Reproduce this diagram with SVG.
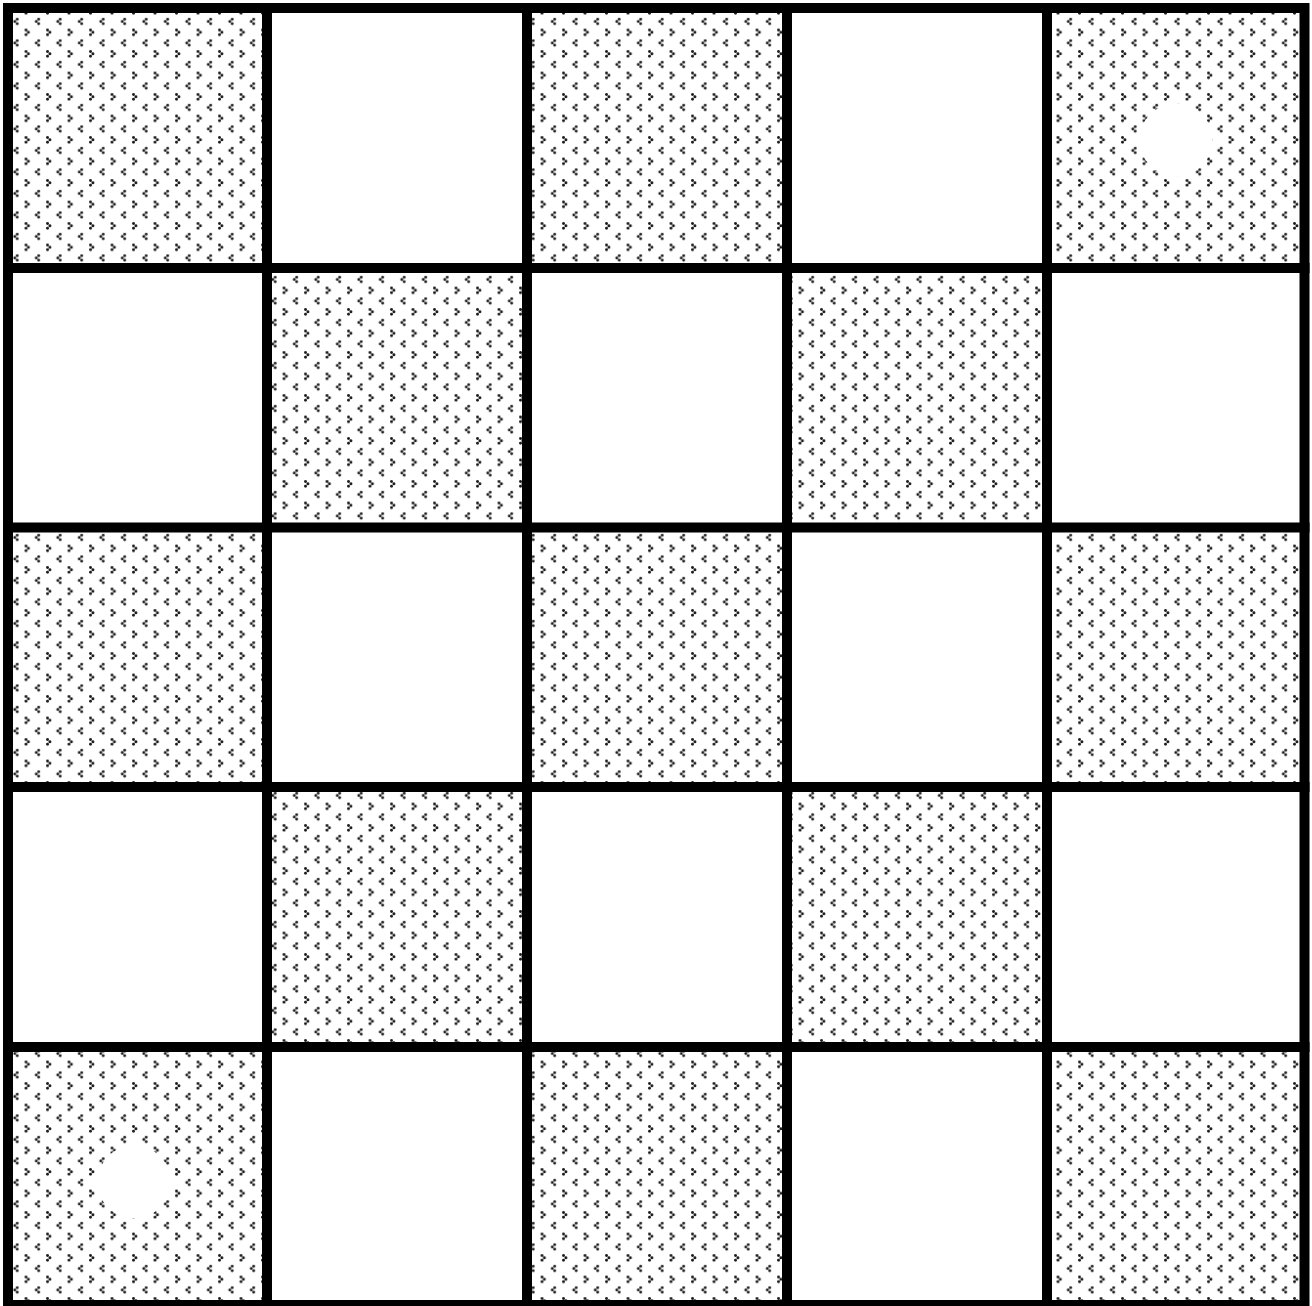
<svg xmlns="http://www.w3.org/2000/svg" width="1312" height="1306" viewBox="0 0 1312 1306">
  <style>
    .dot { fill: url(#dots); }
    .plain { fill: #ffffff; }
    .grid { stroke: #000000; stroke-width: 10; fill: none; stroke-linecap: square; }
    .hole { fill: #ffffff; }
    .g { fill: #1a1a1a; }
  </style>
  <defs>
    <pattern id="dots" patternUnits="userSpaceOnUse" x="5" y="11" width="21.5" height="21.5">
      <g class="g">
        <circle cx="12.2" cy="8.2" r="1.45"/>
        <circle cx="9.8" cy="10.5" r="1.45"/>
        <circle cx="12.2" cy="12.8" r="1.45"/>
        <circle cx="-0.5" cy="19" r="1.45"/>
        <circle cx="1.9" cy="21.3" r="1.45"/>
        <circle cx="-0.5" cy="23.6" r="1.45"/>
        <circle cx="21" cy="19" r="1.45"/>
        <circle cx="23.4" cy="21.3" r="1.45"/>
        <circle cx="21" cy="23.6" r="1.45"/>
        <circle cx="-0.5" cy="-2.5" r="1.45"/>
        <circle cx="1.9" cy="-0.2" r="1.45"/>
        <circle cx="-0.5" cy="2.1" r="1.45"/>
        <circle cx="21" cy="-2.5" r="1.45"/>
        <circle cx="23.4" cy="-0.2" r="1.45"/>
        <circle cx="21" cy="2.1" r="1.45"/>
      </g>
    </pattern>
  </defs>
  <rect x="0" y="0" width="1312" height="1306" fill="#ffffff"/>
  <g id="cells">
    <g id="cell-r1c1"><rect class="dot" x="8" y="8" width="259" height="260"/></g>
    <g id="cell-r1c2"><rect class="plain" x="267" y="8" width="260" height="260"/></g>
    <g id="cell-r1c3"><rect class="dot" x="527" y="8" width="260" height="260"/></g>
    <g id="cell-r1c4"><rect class="plain" x="787" y="8" width="260" height="260"/></g>
    <g id="cell-r1c5"><rect class="dot" x="1047" y="8" width="258" height="260"/><circle class="hole" cx="1176" cy="140" r="36.5"/></g>

    <g id="cell-r2c1"><rect class="plain" x="8" y="268" width="259" height="260"/></g>
    <g id="cell-r2c2"><rect class="dot" x="267" y="268" width="260" height="260"/></g>
    <g id="cell-r2c3"><rect class="plain" x="527" y="268" width="260" height="260"/></g>
    <g id="cell-r2c4"><rect class="dot" x="787" y="268" width="260" height="260"/></g>
    <g id="cell-r2c5"><rect class="plain" x="1047" y="268" width="258" height="260"/></g>

    <g id="cell-r3c1"><rect class="dot" x="8" y="527" width="259" height="260"/></g>
    <g id="cell-r3c2"><rect class="plain" x="267" y="527" width="260" height="260"/></g>
    <g id="cell-r3c3"><rect class="dot" x="527" y="527" width="260" height="260"/></g>
    <g id="cell-r3c4"><rect class="plain" x="787" y="527" width="260" height="260"/></g>
    <g id="cell-r3c5"><rect class="dot" x="1047" y="527" width="258" height="260"/></g>

    <g id="cell-r4c1"><rect class="plain" x="8" y="787" width="259" height="260"/></g>
    <g id="cell-r4c2"><rect class="dot" x="267" y="787" width="260" height="260"/></g>
    <g id="cell-r4c3"><rect class="plain" x="527" y="787" width="260" height="260"/></g>
    <g id="cell-r4c4"><rect class="dot" x="787" y="787" width="260" height="260"/></g>
    <g id="cell-r4c5"><rect class="plain" x="1047" y="787" width="258" height="260"/></g>

    <g id="cell-r5c1"><rect class="dot" x="8" y="1047" width="259" height="259"/><circle class="hole" cx="134" cy="1182" r="36.5"/></g>
    <g id="cell-r5c2"><rect class="plain" x="267" y="1047" width="260" height="259"/></g>
    <g id="cell-r5c3"><rect class="dot" x="527" y="1047" width="260" height="259"/></g>
    <g id="cell-r5c4"><rect class="plain" x="787" y="1047" width="260" height="259"/></g>
    <g id="cell-r5c5"><rect class="dot" x="1047" y="1047" width="258" height="259"/></g>
  </g>
  <g id="grid-lines">
    <rect class="grid" x="8" y="8" width="1296.5" height="1297"/>
    <line class="grid" x1="267" y1="8" x2="267" y2="1305"/>
    <line class="grid" x1="527" y1="8" x2="527" y2="1305"/>
    <line class="grid" x1="787" y1="8" x2="787" y2="1305"/>
    <line class="grid" x1="1047" y1="8" x2="1047" y2="1305"/>
    <line class="grid" x1="8" y1="268" x2="1304.5" y2="268"/>
    <line class="grid" x1="8" y1="527.5" x2="1304.5" y2="527.5"/>
    <line class="grid" x1="8" y1="787" x2="1304.5" y2="787"/>
    <line class="grid" x1="8" y1="1047" x2="1304.5" y2="1047"/>
  </g>
</svg>
